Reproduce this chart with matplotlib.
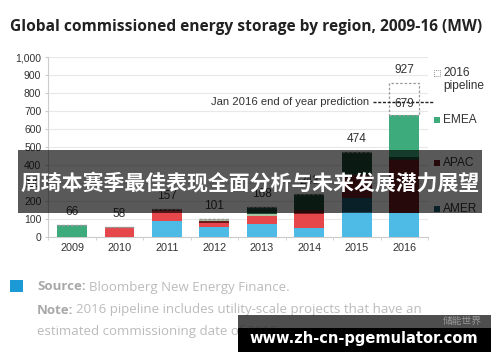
import matplotlib
matplotlib.use("Agg")
import matplotlib.pyplot as plt
from matplotlib.patches import Rectangle
import numpy as np

years = ["2009", "2010", "2011", "2012", "2013", "2014", "2015", "2016"]
amer_light = [0, 0, 89, 55, 76, 52, 140, 133]
amer_dark = [0, 0, 0, 0, 0, 0, 80, 0]
apac_red = [0, 58, 57, 27, 44, 80, 0, 0]
apac_dark = [0, 0, 11, 8, 0, 18, 125, 296]
emea_pale = [0, 0, 0, 11, 10, 0, 0, 0]
emea_dark = [0, 0, 0, 0, 38, 93, 129, 15]
emea_green = [66, 0, 0, 0, 0, 0, 0, 235]
pipeline = [0, 0, 0, 0, 0, 0, 0, 180]
total_labels = ["66", "58", "157", "101", "168", "243", "474", "679"]
pipeline_label = "927"
prediction = 752
yticks = [0, 100, 200, 300, 400, 500, 600, 700, 800, 900, 1000]

W, H = 500, 362
fig = plt.figure(figsize=(5, 3.62), dpi=100)
fig.patch.set_facecolor("white")

def fx(x):
    return x / W

def fy(y):
    return 1 - y / H

ax = fig.add_axes([fx(48.3), fy(237.3), (428 - 48.3) / W, 180 / H])
x = np.arange(len(years))
bw = 0.63
series = [
    (amer_light, "#4dbbe6"),
    (amer_dark, "#1e5c74"),
    (apac_red, "#e5474a"),
    (apac_dark, "#6d1b1d"),
    (emea_pale, "#a8c4a0"),
    (emea_dark, "#1d4a36"),
    (emea_green, "#3dab7c"),
]
bottom = np.zeros(len(years))
for vals, col in series:
    v = np.array(vals, dtype=float)
    ax.bar(x, v, bw, bottom=bottom, color=col, edgecolor="none", zorder=3)
    bottom += v
totals = bottom.copy()
pv = np.array(pipeline, dtype=float)
ax.bar(x, pv, bw, bottom=bottom, facecolor="none", edgecolor="#999999",
       linestyle=(0, (2, 1.5)), linewidth=0.9, zorder=3, clip_on=False)

for i, lab in enumerate(total_labels):
    off = 3.5 if i == 7 else 5
    ax.annotate(lab, (x[i], totals[i]), xytext=(0, off), textcoords="offset points",
                ha="center", va="bottom", fontsize=8.6, color="#333333",
                family="Liberation Sans", zorder=5)
ax.annotate(pipeline_label, (x[7], totals[7] + pv[7]), xytext=(0, 5),
            textcoords="offset points", ha="center", va="bottom", fontsize=8.6,
            color="#333333", family="Liberation Sans", annotation_clip=False)

ax.plot([6.35, 7.61], [prediction, prediction], color="#222222", linestyle=(0, (2.2, 1.2)),
        linewidth=1.0, clip_on=False, zorder=4)
ax.text(6.25, prediction, "Jan 2016 end of year prediction", ha="right", va="center",
        fontsize=8.1, color="#333333", family="Liberation Sans")

ax.set_xlim(-0.5, 7.5)
ax.set_ylim(0, 1000)
ax.set_yticks(yticks)
ax.set_yticklabels([f"{t:,}" for t in yticks], family="Liberation Sans", fontsize=7.5, color="#333333")
ax.set_xticks(x)
ax.set_xticklabels(years, family="Liberation Sans", fontsize=7.8, color="#333333")
ax.grid(axis="y", color="#e8e8e8", linewidth=0.8, zorder=0)
ax.set_axisbelow(True)
for s in ["top", "right"]:
    ax.spines[s].set_visible(False)
ax.spines["left"].set_color("#cccccc")
ax.spines["bottom"].set_color("#cccccc")
ax.spines["left"].set_linewidth(0.8)
ax.spines["bottom"].set_linewidth(0.8)
ax.tick_params(axis="y", length=2, color="#cccccc", pad=3)
ax.tick_params(axis="x", length=2, color="#cccccc", pad=4)
ax.set_xticks(np.arange(-0.5, 8, 1), minor=True)
ax.tick_params(axis="x", which="major", length=0)
ax.tick_params(axis="x", which="minor", length=2, color="#cccccc")

# title
fig.text(fx(10), fy(27), "Global commissioned energy storage by region, 2009-16 (MW)",
         fontsize=11.2, fontweight="bold", color="#222222", va="center", ha="left",
         family="Open Sans")

# legend
leg_items = [("EMEA", "#3dab7c", 120), ("APAC", "#6d1b1d", 163), ("AMER", "#1e5c74", 209)]
fig.add_artist(Rectangle((fx(434), fy(76)), 6 / W, 6 / H, transform=fig.transFigure,
                         facecolor="none", edgecolor="#999999", linewidth=0.7, linestyle=(0, (1, 1))))
fig.text(fx(443), fy(73), "2016", fontsize=8.6, color="#333333", va="center", family="Liberation Sans")
fig.text(fx(443), fy(86), "pipeline", fontsize=8.6, color="#333333", va="center", family="Liberation Sans")
for name, col, yy in leg_items:
    fig.add_artist(Rectangle((fx(434), fy(yy + 3)), 6 / W, 6 / H, transform=fig.transFigure,
                             facecolor=col, edgecolor="none"))
    fig.text(fx(443), fy(yy), name, fontsize=8.6, color="#333333", va="center", family="Liberation Sans")

# source notes
fig.add_artist(Rectangle((fx(10), fy(292)), 12.5 / W, 12 / H, transform=fig.transFigure,
                         facecolor="#1b9ad6", edgecolor="none"))
fig.text(fx(37), fy(287), "Source:", fontsize=9.5, fontweight="bold", color="#a8a8a8", va="center", family="Open Sans")
fig.text(fx(89), fy(287), "Bloomberg New Energy Finance.", fontsize=9.5, color="#bbbbbb", va="center", family="Open Sans")
fig.text(fx(37), fy(310), "Note:", fontsize=9.5, fontweight="bold", color="#a8a8a8", va="center", family="Open Sans")
fig.text(fx(76), fy(310), "2016 pipeline includes utility-scale projects that have an", fontsize=9.5,
         color="#bbbbbb", va="center", family="Open Sans")
fig.text(fx(37), fy(332), "estimated commissioning date of 2016.", fontsize=9.5, color="#bbbbbb",
         va="center", family="Open Sans")

# overlay banner
fig.add_artist(Rectangle((fx(18), fy(212.7)), (482 - 18) / W, 62.7 / H, transform=fig.transFigure,
                         facecolor="#000000", alpha=0.65, edgecolor="none", zorder=10))
fig.text(0.5, fy(183), "周琦本赛季最佳表现全面分析与未来发展潜力展望", fontsize=15, fontweight="bold",
         color="white", ha="center", va="center", family=["Noto Sans CJK SC", "DejaVu Sans"], zorder=11)

# bottom watermark box
fig.add_artist(Rectangle((fx(238), fy(328)), (491 - 238) / W, 13 / H, transform=fig.transFigure,
                         facecolor="#222222", alpha=0.8, edgecolor="none", zorder=10))
fig.add_artist(Rectangle((fx(238), fy(352)), (491 - 238) / W, 24 / H, transform=fig.transFigure,
                         facecolor="#000000", edgecolor="none", zorder=10))
fig.text(fx(482), fy(321), "储能世界", fontsize=7, color="#999999", ha="right", va="center",
         family=["Noto Sans CJK SC", "DejaVu Sans"], zorder=11)
fig.text(fx(364), fy(338), "www.zh-cn-pgemulator.com", fontsize=10.5, fontweight="bold",
         color="white", ha="center", va="center", family="DejaVu Sans", zorder=11)

fig.savefig("out.png", dpi=100, facecolor="white")
